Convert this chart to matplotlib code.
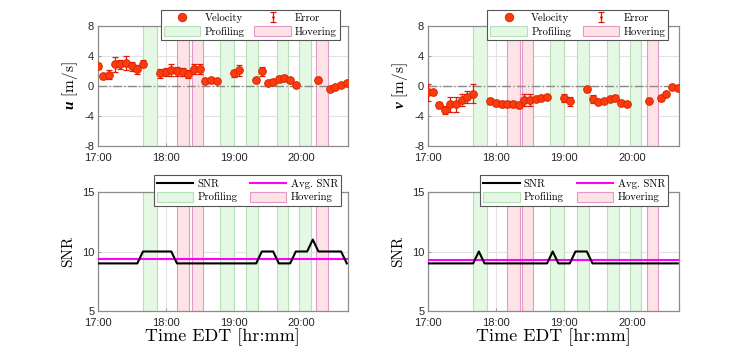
import matplotlib
matplotlib.use('Agg')
import matplotlib.pyplot as plt
import numpy as np
from matplotlib.lines import Line2D
from matplotlib.patches import Patch

plt.rcParams['font.family'] = ['Liberation Sans', 'DejaVu Sans']
plt.rcParams['axes.unicode_minus'] = False
plt.rcParams['mathtext.fontset'] = 'custom'
plt.rcParams['mathtext.rm'] = 'cmr10'
plt.rcParams['mathtext.bf'] = 'Liberation Serif:italic:bold'

# ---------------- data ----------------
vel_times = ["17:00", "17:05", "17:10", "17:15", "17:20", "17:25", "17:30", "17:35", "17:40",
             "17:55", "18:00", "18:05", "18:10", "18:15", "18:20", "18:25", "18:30", "18:35",
             "18:40", "18:45", "19:00", "19:05", "19:20", "19:25", "19:30", "19:35", "19:40",
             "19:45", "19:50", "19:55", "20:15", "20:25", "20:30", "20:35", "20:40"]
u_vals = [2.65, 1.3, 1.5, 2.87, 2.87, 3.1, 2.65, 2.25, 3.0,
          1.67, 1.85, 2.2, 1.94, 1.85, 1.58, 2.25, 2.3, 0.65,
          0.78, 0.65, 1.67, 2.07, 0.82, 1.98, 0.38, 0.6, 0.87,
          1.05, 0.74, 0.11, 0.78, -0.42, -0.11, 0.16, 0.42]
u_err = [0.4, 0.3, 0.6, 1.0, 0.6, 0.9, 0.6, 0.6, 0.5,
         0.6, 0.5, 0.8, 0.6, 0.5, 0.5, 0.7, 0.7, 0.3,
         0.3, 0.3, 0.5, 0.7, 0.3, 0.6, 0.3, 0.3, 0.4,
         0.4, 0.3, 0.3, 0.4, 0.3, 0.3, 0.3, 0.3]
v_vals = [-0.85, -0.85, -2.5, -3.2, -2.4, -2.45, -1.9, -1.5, -1.0,
          -2.0, -2.2, -2.4, -2.45, -2.45, -2.55, -1.8, -1.8, -1.7,
          -1.55, -1.45, -1.6, -2.0, -0.45, -1.7, -2.15, -2.0, -1.7,
          -1.55, -2.2, -2.4, -1.95, -1.65, -1.07, -0.13, -0.27]
v_err = [1.15, 0.3, 0.4, 0.5, 1.0, 1.0, 0.8, 0.8, 1.3,
         0.4, 0.4, 0.4, 0.4, 0.4, 0.4, 0.8, 0.8, 0.3,
         0.3, 0.3, 0.5, 0.6, 0.3, 0.5, 0.3, 0.3, 0.3,
         0.3, 0.3, 0.3, 0.3, 0.3, 0.3, 0.3, 0.3]

snr_times = ("17:00 17:05 17:10 17:15 17:20 17:25 17:30 17:35 17:40 17:45 17:50 17:55 "
             "18:00 18:05 18:10 18:15 18:20 18:25 18:30 18:35 18:40 18:45 18:50 18:55 "
             "19:00 19:05 19:10 19:15 19:20 19:25 19:30 19:35 19:40 19:45 19:50 19:55 "
             "20:00 20:05 20:10 20:15 20:20 20:25 20:30 20:35 20:40").split()
snr_u = [9, 9, 9, 9, 9, 9, 9, 9, 10, 10, 10, 10,
         10, 10, 9, 9, 9, 9, 9, 9, 9, 9, 9, 9,
         9, 9, 9, 9, 9, 10, 10, 10, 9, 9, 9, 10,
         10, 10, 11, 10, 10, 10, 10, 10, 9]
snr_v = [9, 9, 9, 9, 9, 9, 9, 9, 9, 10, 9, 9,
         9, 9, 9, 9, 9, 9, 9, 9, 9, 9, 10, 9,
         9, 9, 10, 10, 10, 9, 9, 9, 9, 9, 9, 9,
         9, 9, 9, 9, 9, 9, 9, 9, 9]
avg_snr_u = 9.4
avg_snr_v = 9.25

profiling = [("17:40", "17:52"), ("18:48", "19:00"), ("19:11", "19:22"),
             ("19:38", "19:48"), ("19:58", "20:08")]
hovering = [("18:10", "18:21"), ("18:23", "18:33"), ("20:13", "20:23")]

xtick_labels = ["17:00", "18:00", "19:00", "20:00"]

# ---------------- helpers ----------------
def hrs(t):
    h, m = t.split(':')
    return int(h) - 17 + int(m) / 60.0

RED = '#ff3a0f'
REDEDGE = '#d42a00'
ERRC = '#e01a0a'
GREEN_F = '#e4f8e4'
GREEN_E = '#b8e0b8'
PINK_F = '#fde3e6'
PINK_E = '#e49ac8'
SPINE = '#8c8c8c'
SERIF = ['cmr10', 'DejaVu Serif']

fig = plt.figure(figsize=(7.5, 3.5), dpi=100)
W, H = 750.0, 350.0
pos = {
    'tl': (97.7, 26, 348, 146),
    'tr': (427.7, 26, 679, 146),
    'bl': (97.7, 192, 348, 311),
    'br': (427.7, 192, 679, 311),
}
axes = {}
for k, (x0, y0, x1, y1) in pos.items():
    axes[k] = fig.add_axes([x0 / W, 1 - y1 / H, (x1 - x0) / W, (y1 - y0) / H])

def style(ax):
    ax.set_xlim(0, 3.685)
    ax.set_xticks([hrs(t) for t in xtick_labels])
    ax.set_xticklabels(xtick_labels)
    ax.grid(True, color='#e3e3e3', lw=0.8)
    ax.set_axisbelow(True)
    for s in ax.spines.values():
        s.set_color(SPINE)
        s.set_linewidth(0.9)
    ax.tick_params(direction='in', length=2.5, width=0.6, color=SPINE,
                   labelsize=8, labelcolor='#262626')
    ax.tick_params(axis='x', pad=5)
    ax.tick_params(axis='y', pad=2.5)

def shade(ax):
    for a, b in profiling:
        ax.axvspan(hrs(a), hrs(b), facecolor=GREEN_F, edgecolor=GREEN_E, lw=0.8, zorder=1)
    for a, b in hovering:
        ax.axvspan(hrs(a), hrs(b), facecolor=PINK_F, edgecolor=PINK_E, lw=0.8, zorder=1)

prof_h = Patch(facecolor=GREEN_F, edgecolor=GREEN_E, lw=0.8)
hov_h = Patch(facecolor=PINK_F, edgecolor=PINK_E, lw=0.8)

def legend(ax, handles, labels, x0, x1, y0, y1):
    lg = ax.legend(handles, labels, ncol=2, loc='lower left', mode='expand',
                   bbox_to_anchor=(x0, y0, x1 - x0, y1 - y0), borderaxespad=0,
                   prop={'family': SERIF, 'size': 7.7}, fancybox=False, framealpha=1,
                   edgecolor='#555555', handlelength=3.4, handleheight=1.0,
                   borderpad=0.3, labelspacing=0.3, columnspacing=0.5,
                   handletextpad=0.4)
    lg.get_frame().set_linewidth(0.8)
    lg.set_zorder(10)

# ---- velocity panels ----
tv = [hrs(t) for t in vel_times]
for key, vals, errs, lab, lx0, lx1 in [('tl', u_vals, u_err, 'u', 0.252, 0.968),
                                        ('tr', v_vals, v_err, 'v', 0.237, 0.957)]:
    ax = axes[key]
    style(ax)
    shade(ax)
    ax.axhline(0, color='#8a8a8a', ls='-.', lw=1.0, zorder=2)
    eb = ax.errorbar(tv, vals, yerr=errs, fmt='.', ms=2, color=ERRC, ecolor=ERRC,
                     elinewidth=0.9, capsize=2.5, capthick=0.9, zorder=3)
    ax.plot(tv, vals, 'o', ls='none', mfc=RED, mec=REDEDGE, mew=0.7, ms=5.5, zorder=4)
    ax.set_ylim(-8, 8)
    ax.set_yticks([-8, -4, 0, 4, 8])
    ax.set_ylabel(r'$\mathbf{%s}\ \mathrm{[m/s]}$' % lab, fontsize=11, labelpad=3)
    vel_h = Line2D([], [], marker='o', ls='none', mfc=RED, mec=REDEDGE, mew=0.7, ms=6)
    legend(ax, [vel_h, prof_h, eb, hov_h], ['Velocity', 'Profiling', 'Error', 'Hovering'],
           lx0, lx1, 0.883, 1.128)

# ---- SNR panels ----
ts = [hrs(t) for t in snr_times]
for key, vals, avg, lx0, lx1 in [('bl', snr_u, avg_snr_u, 0.224, 0.972),
                                  ('br', snr_v, avg_snr_v, 0.208, 0.957)]:
    ax = axes[key]
    style(ax)
    shade(ax)
    l1, = ax.plot(ts, vals, color='black', lw=1.5, zorder=4)
    l2 = ax.axhline(avg, color='#ff00ff', lw=1.5, zorder=3)
    ax.set_ylim(5, 15)
    ax.set_yticks([5, 10, 15])
    ax.set_ylabel('SNR', family=SERIF, fontsize=11, labelpad=5)
    ax.set_xlabel('Time EDT [hr:mm]', family=SERIF, fontsize=13, labelpad=0)
    legend(ax, [l1, prof_h, l2, hov_h], ['SNR', 'Profiling', 'Avg. SNR', 'Hovering'],
           lx0, lx1, 0.885, 1.10)

fig.savefig('out.png', dpi=100)
